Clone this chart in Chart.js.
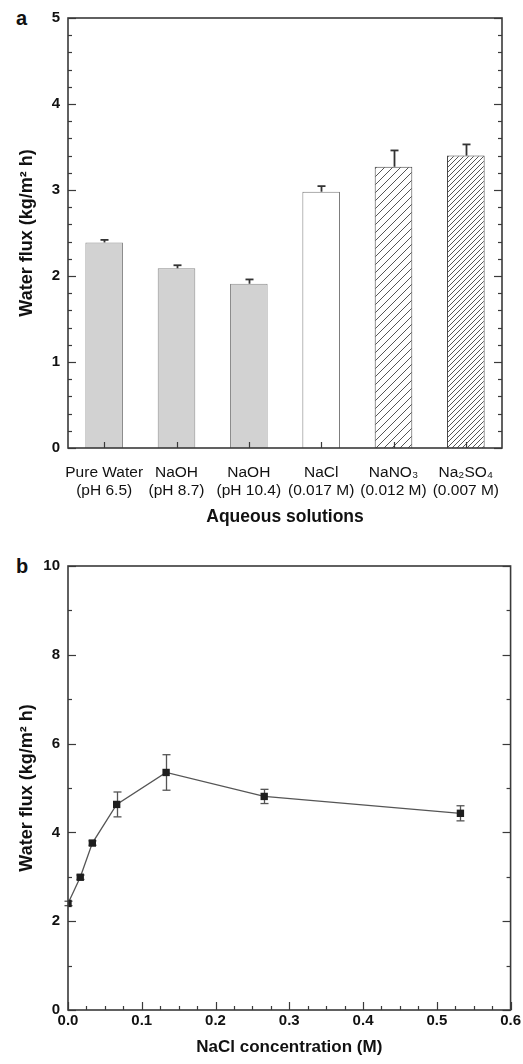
<!DOCTYPE html>
<html>
<head>
<meta charset="utf-8">
<script src="https://cdn.jsdelivr.net/npm/chart.js@4/dist/chart.umd.min.js"></script>
<style>
  html, body { margin: 0; padding: 0; background: #fff; }
  #wrap { position: relative; width: 523px; height: 1064px; overflow: hidden; }
  .panel { position: absolute; left: 0; }
  .lab { position: absolute; font: bold 20px "Liberation Sans", Arial, sans-serif; color: #111; }
</style>
</head>
<body>
<div id="wrap">
  <div class="lab" style="left:16px; top:7px;">a</div>
  <div class="lab" style="left:16px; top:555px;">b</div>
  <canvas id="ca" class="panel" style="top:0px" width="523" height="535"></canvas>
  <canvas id="cb" class="panel" style="top:538px" width="523" height="526"></canvas>
</div>
<script>
// ---------- Panel a data ----------
const categoriesA = [
  ["Pure Water", "(pH 6.5)"],
  ["NaOH", "(pH 8.7)"],
  ["NaOH", "(pH 10.4)"],
  ["NaCl", "(0.017 M)"],
  ["NaNO\u2083", "(0.012 M)"],
  ["Na\u2082SO\u2084", "(0.007 M)"]
];
const fluxA = [2.39, 2.09, 1.91, 2.98, 3.27, 3.40];
const errA  = [0.03, 0.035, 0.05, 0.065, 0.19, 0.13];
const yTicksA = [0, 1, 2, 3, 4, 5];

// ---------- Panel b data ----------
const concB = [0, 0.0166, 0.033, 0.066, 0.133, 0.266, 0.532];
const fluxB = [2.40, 2.99, 3.76, 4.63, 5.35, 4.81, 4.43];
const errB  = [0.05, 0.05, 0.05, 0.28, 0.40, 0.16, 0.17];
const yTicksB = [0, 2, 4, 6, 8, 10];
const xTicksB = [0, 0.1, 0.2, 0.3, 0.4, 0.5, 0.6];

const FONT = '"Liberation Sans", Arial, sans-serif';
const AXIS = '#3a3a3a';

function hatch(s, color) {
  const c = document.createElement('canvas');
  c.width = s; c.height = s;
  const g = c.getContext('2d');
  g.fillStyle = '#fff'; g.fillRect(0, 0, s, s);
  g.strokeStyle = color; g.lineWidth = 1;
  g.beginPath();
  for (const k of [-s, 0, s]) { g.moveTo(k, s); g.lineTo(k + s, 0); }
  g.stroke();
  return document.getElementById('ca').getContext('2d').createPattern(c, 'repeat');
}

const fillsA = ['#d2d2d2', '#d2d2d2', '#d2d2d2', '#ffffff', hatch(8, '#555'), hatch(5, '#555')];
const bordersA = ['#8a8a8a', '#8a8a8a', '#8a8a8a', '#7a7a7a', '#444', '#444'];

function seg(ctx, x1, y1, x2, y2) { ctx.beginPath(); ctx.moveTo(x1, y1); ctx.lineTo(x2, y2); ctx.stroke(); }

function range(min, max, step) {
  const out = []; const n = Math.round((max - min) / step);
  for (let i = 0; i <= n; i++) out.push(min + i * step);
  return out;
}

const frameTicks = {
  id: 'frameTicks',
  afterDatasetsDraw(chart, args, o) {
    const { ctx, chartArea: a, scales } = chart;
    ctx.save();
    ctx.strokeStyle = AXIS;
    ctx.lineWidth = 1.2;
    const y = scales.y, x = scales.x;
    for (const v of range(y.min, y.max, o.yMinor)) {
      const p = Math.round(y.getPixelForValue(v)) + 0.5;
      const major = o.yMajor.some(m => Math.abs(m - v) < 1e-6);
      const L = major ? 8 : 4;
      seg(ctx, a.left, p, a.left + L, p);
      seg(ctx, a.right, p, a.right - L, p);
    }
    if (o.xCategory) {
      chart.getDatasetMeta(0).data.forEach(el => {
        const p = Math.round(el.x) + 0.5;
        seg(ctx, p, a.bottom, p, a.bottom - 6);
      });
    } else {
      for (const v of range(x.min, x.max, o.xMinor)) {
        const p = Math.round(x.getPixelForValue(v)) + 0.5;
        const major = o.xMajor.some(m => Math.abs(m - v) < 1e-6);
        seg(ctx, p, a.bottom, p, a.bottom - (major ? 8 : 4));
      }
    }
    ctx.lineWidth = 1.6;
    ctx.strokeRect(a.left, a.top, a.right - a.left, a.bottom - a.top);
    ctx.restore();
  }
};

const barErrors = {
  id: 'barErrors',
  afterDatasetsDraw(chart) {
    const { ctx, scales: { y } } = chart;
    const meta = chart.getDatasetMeta(0);
    ctx.save();
    ctx.strokeStyle = '#333';
    ctx.lineWidth = 1.8;
    meta.data.forEach((el, i) => {
      const top = y.getPixelForValue(fluxA[i] + errA[i]);
      const base = y.getPixelForValue(fluxA[i]);
      const x = Math.round(el.x) + 0.5;
      seg(ctx, x, base, x, top);
      seg(ctx, x - 4, top, x + 4, top);
    });
    ctx.restore();
  }
};

const pointErrors = {
  id: 'pointErrors',
  beforeDatasetsDraw(chart) {
    const { ctx, scales: { x, y } } = chart;
    ctx.save();
    ctx.strokeStyle = '#555';
    ctx.lineWidth = 1.3;
    concB.forEach((c, i) => {
      const px = Math.round(x.getPixelForValue(c)) + 0.5;
      const hi = y.getPixelForValue(fluxB[i] + errB[i]);
      const lo = y.getPixelForValue(fluxB[i] - errB[i]);
      seg(ctx, px, lo, px, hi);
      seg(ctx, px - 4, hi, px + 4, hi);
      seg(ctx, px - 4, lo, px + 4, lo);
    });
    ctx.restore();
  }
};

Chart.defaults.font.family = FONT;
Chart.defaults.color = '#111';

new Chart(document.getElementById('ca'), {
  type: 'bar',
  data: {
    labels: categoriesA,
    datasets: [{
      data: fluxA,
      backgroundColor: fillsA,
      borderColor: bordersA,
      borderWidth: 1,
      barPercentage: 0.52,
      categoryPercentage: 1.0
    }]
  },
  options: {
    responsive: false,
    animation: false,
    layout: { padding: { left: 12, right: 21, top: 18, bottom: 0 } },
    plugins: {
      legend: { display: false },
      tooltip: { enabled: false },
      frameTicks: { yMinor: 0.2, yMajor: yTicksA, xCategory: true }
    },
    scales: {
      x: {
        grid: { display: false, drawTicks: false },
        border: { display: false },
        ticks: { padding: 15, maxRotation: 0, autoSkip: false, font: { size: 15.5, lineHeight: 1.2 }, color: '#111' },
        title: { display: true, text: 'Aqueous solutions', font: { size: 17.5, weight: 'bold' }, padding: { top: 4, bottom: 7 }, color: '#111' },
        afterFit: s => { s.height = 87; }
      },
      y: {
        min: 0, max: 5,
        afterBuildTicks: s => { s.ticks = yTicksA.map(v => ({ value: v })); },
        grid: { display: false, drawTicks: false },
        border: { display: false },
        ticks: { padding: 8, font: { size: 15, weight: 'bold' }, color: '#111' },
        title: { display: true, text: 'Water flux (kg/m\u00B2 h)', font: { size: 18, weight: 'bold' }, padding: { top: 4, bottom: 4 }, color: '#111' },
        afterFit: s => { s.width = 56; }
      }
    }
  },
  plugins: [barErrors, frameTicks]
});

new Chart(document.getElementById('cb'), {
  type: 'scatter',
  data: {
    datasets: [{
      data: concB.map((c, i) => ({ x: c, y: fluxB[i] })),
      showLine: true,
      borderColor: '#555',
      borderWidth: 1.3,
      pointStyle: 'rect',
      pointRadius: 5.2,
      pointBackgroundColor: '#1e1e1e',
      pointBorderColor: '#1e1e1e',
      pointBorderWidth: 0,
      clip: { left: 0, top: false, right: false, bottom: false }
    }]
  },
  options: {
    responsive: false,
    animation: false,
    layout: { padding: { left: 12, right: 0, top: 28, bottom: 4 } },
    plugins: {
      legend: { display: false },
      tooltip: { enabled: false },
      frameTicks: { yMinor: 1, yMajor: yTicksB, xMinor: 0.025, xMajor: xTicksB }
    },
    scales: {
      x: {
        type: 'linear', min: 0, max: 0.6,
        afterBuildTicks: s => { s.ticks = xTicksB.map(v => ({ value: v })); },
        grid: { display: false, drawTicks: false },
        border: { display: false },
        ticks: { padding: 2, font: { size: 15, weight: 'bold' }, color: '#111', maxRotation: 0, callback: v => Number(v).toFixed(1) },
        title: { display: true, text: 'NaCl concentration (M)', font: { size: 17, weight: 'bold' }, padding: { top: 4, bottom: 2 }, color: '#111' },
        afterFit: s => { s.height = 50; }
      },
      y: {
        min: 0, max: 10,
        afterBuildTicks: s => { s.ticks = yTicksB.map(v => ({ value: v })); },
        grid: { display: false, drawTicks: false },
        border: { display: false },
        ticks: { padding: 8, font: { size: 15, weight: 'bold' }, color: '#111' },
        title: { display: true, text: 'Water flux (kg/m\u00B2 h)', font: { size: 18, weight: 'bold' }, padding: { top: 4, bottom: 4 }, color: '#111' },
        afterFit: s => { s.width = 56; }
      }
    }
  },
  plugins: [pointErrors, frameTicks]
});
</script>
</body>
</html>
